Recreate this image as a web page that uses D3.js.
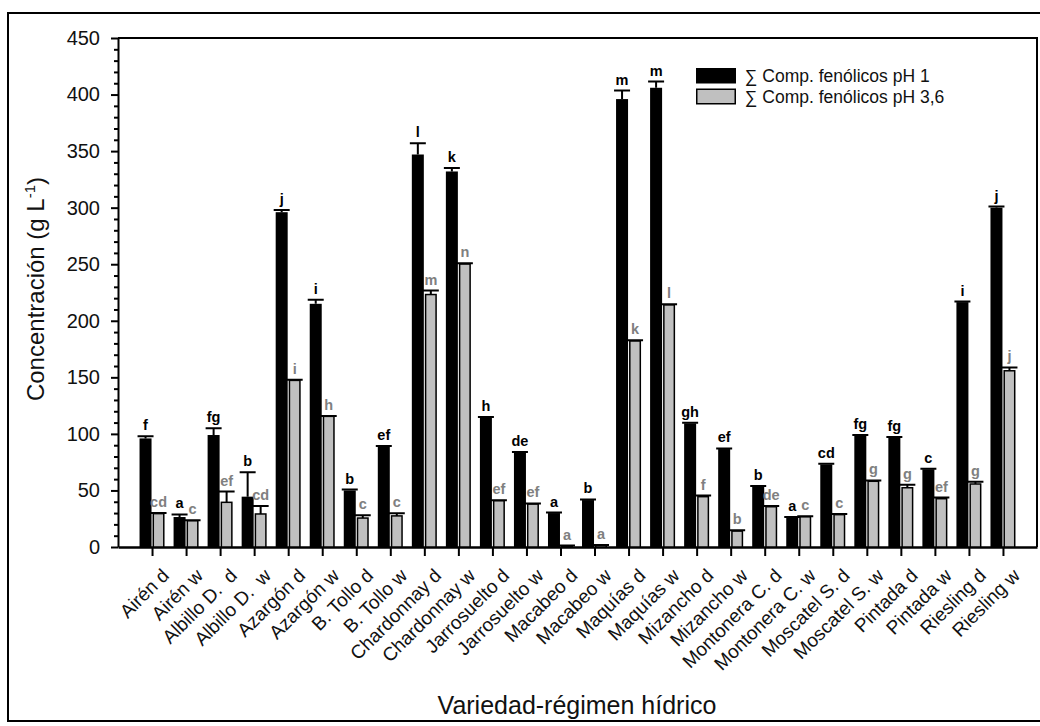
<!DOCTYPE html>
<html>
<head>
<meta charset="utf-8">
<script src="https://cdn.jsdelivr.net/npm/d3@7/dist/d3.min.js"></script>
<style>
  html, body { margin: 0; padding: 0; background: #fff; }
  svg { display: block; font-family: "Liberation Sans", Arial, sans-serif; }
</style>
</head>
<body>
<svg id="chart" width="1040" height="726"></svg>
<script>
// Variety / water regime groups
const categories = [
  "Airén d", "Airén w", "Albillo D.  d", "Albillo D.  w", "Azargón d", "Azargón w",
  "B. Tollo d", "B. Tollo w", "Chardonnay d", "Chardonnay w", "Jarrosuelto d", "Jarrosuelto w",
  "Macabeo d", "Macabeo w", "Maquías d", "Maquías w", "Mizancho d", "Mizancho w",
  "Montonera C. d", "Montonera C. w", "Moscatel S. d", "Moscatel S. w", "Pintada d", "Pintada w",
  "Riesling d", "Riesling w"
];

// Sum of phenolic compounds at pH 1 (mean and error)
const ph1Values = [96, 26.5, 99, 44.5, 296, 215, 50, 88.7, 347, 332, 114.5, 83.5,
  30, 41.5, 396, 406, 109.3, 86.6, 53.5, 26, 73, 98.5, 96.8, 68.7, 216.5, 300];
const ph1Errors = [2, 2.3, 6, 21.5, 2, 3.5, 0.8, 0.5, 10, 3, 0.5, 0.5,
  0.5, 0.5, 7.5, 5.5, 0.5, 0.5, 0.5, 0.5, 0.5, 0.5, 0.5, 0.5, 0.5, 1];
const ph1Letters = ["f", "a", "fg", "b", "j", "i", "b", "ef", "l", "k", "h", "de",
  "a", "b", "m", "m", "gh", "ef", "b", "a", "cd", "fg", "fg", "c", "i", "j"];

// Sum of phenolic compounds at pH 3,6 (mean and error)
const ph36Values = [29.5, 23.3, 39.5, 29.2, 147.3, 115.5, 25.6, 27.5, 223.2, 250.2, 41, 38,
  1, 1.5, 182.2, 214.1, 44.5, 14.1, 35.6, 26.8, 28.6, 58.1, 52.4, 42.7, 55.7, 155.8];
const ph36Errors = [0.5, 0.3, 9.5, 7, 0.5, 0.3, 2.4, 2.4, 3.5, 0.7, 0.3, 0.5,
  0.3, 0.3, 0.5, 0.5, 1, 0.6, 0.6, 0.3, 0.6, 0.7, 2.7, 1, 2, 3];
const ph36Letters = ["cd", "c", "ef", "cd", "i", "h", "c", "c", "m", "n", "ef", "ef",
  "a", "a", "k", "l", "f", "b", "de", "c", "c", "g", "g", "ef", "g", "j"];

const yMajorTicks = d3.range(0, 451, 50);
const yMinorTicks = d3.range(0, 451, 10).filter(v => v % 50 !== 0);

const seriesNames = ["\u2211 Comp. fenólicos pH 1", "\u2211 Comp. fenólicos pH 3,6"];

const svg = d3.select("#chart");
const plot = { left: 118, right: 1037, top: 38, bottom: 547 };

// Outer frame
svg.append("rect")
  .attr("x", 8).attr("y", 13).attr("width", 1045).attr("height", 708)
  .attr("fill", "none").attr("stroke", "#000").attr("stroke-width", 2);

const x = d3.scalePoint().domain(categories).range([plot.left, plot.right]).padding(1);
const y = d3.scaleLinear().domain([0, 450]).range([plot.bottom, plot.top]);

// Plot box (top and right edges)
svg.append("path")
  .attr("d", `M${plot.left},${plot.top}H${plot.right}V${plot.bottom}`)
  .attr("fill", "none").attr("stroke", "#000").attr("stroke-width", 2);

// Y axis
const yAxis = svg.append("g")
  .attr("transform", `translate(${plot.left},0)`)
  .call(d3.axisLeft(y).tickValues(yMajorTicks).tickSize(7).tickPadding(11).tickSizeOuter(0));
yAxis.select(".domain").attr("stroke-width", 2);
yAxis.selectAll(".tick line").attr("stroke-width", 2);
yAxis.selectAll(".tick text")
  .attr("font-size", 20).attr("font-family", "Liberation Sans, Arial, sans-serif").attr("fill", "#111");

// Minor ticks
svg.append("g")
  .attr("transform", `translate(${plot.left},0)`)
  .call(d3.axisLeft(y).tickValues(yMinorTicks).tickSize(4).tickFormat("").tickSizeOuter(0))
  .call(g => g.select(".domain").remove())
  .call(g => g.selectAll(".tick line").attr("stroke-width", 2));

// X axis
const xAxis = svg.append("g")
  .attr("transform", `translate(0,${plot.bottom})`)
  .call(d3.axisBottom(x).tickSize(9).tickSizeOuter(0));
xAxis.select(".domain").attr("stroke-width", 2.5);
xAxis.selectAll(".tick line").attr("stroke-width", 2);
xAxis.selectAll(".tick text")
  .attr("x", 0).attr("y", 0).attr("dy", "0.72em")
  .attr("transform", "translate(8,20) rotate(-45)")
  .attr("text-anchor", "end")
  .attr("font-size", 19)
  .attr("font-family", "Liberation Sans, Arial, sans-serif")
  .attr("fill", "#111")
  .style("white-space", "pre");

// Bars
const barW = 12;
const series = [
  { values: ph1Values, errors: ph1Errors, letters: ph1Letters, offset: -12.5, fill: "#000", label: "#000" },
  { values: ph36Values, errors: ph36Errors, letters: ph36Letters, offset: 0.5, fill: "#c0c0c0", label: "#808080" }
];

series.forEach((s, si) => {
  const g = svg.append("g");
  const data = categories.map((c, i) => ({ c, v: s.values[i], e: s.errors[i], l: s.letters[i] }));
  const cx = d => x(d.c) + s.offset + barW / 2;

  g.selectAll("rect").data(data).join("rect")
    .attr("x", d => si === 0 ? x(d.c) + s.offset : x(d.c) + s.offset + 0.75)
    .attr("y", d => y(d.v))
    .attr("width", si === 0 ? barW : barW - 1.5)
    .attr("height", d => plot.bottom - y(d.v))
    .attr("fill", s.fill)
    .attr("stroke", si === 0 ? "none" : "#000")
    .attr("stroke-width", 1.5);

  // Error bars (upper only)
  g.selectAll("path.err").data(data).join("path")
    .attr("class", "err")
    .attr("d", d => `M${cx(d)},${y(d.v)}V${y(d.v + d.e)}M${cx(d) - 8},${y(d.v + d.e)}H${cx(d) + 8}`)
    .attr("fill", "none").attr("stroke", "#000").attr("stroke-width", 2);

  // Significance letters
  g.selectAll("text").data(data).join("text")
    .attr("x", d => cx(d))
    .attr("y", d => y(d.v + d.e) - 6)
    .attr("text-anchor", "middle")
    .attr("font-size", 14.5)
    .attr("font-weight", "bold")
    .attr("fill", s.label)
    .text(d => d.l);
});

// Legend
const legend = svg.append("g").attr("transform", "translate(696,68)");
legend.append("rect").attr("x", 0).attr("y", 0).attr("width", 40).attr("height", 15.5).attr("fill", "#000");
legend.append("rect").attr("x", 0.75).attr("y", 21.25).attr("width", 38.5).attr("height", 14.5)
  .attr("fill", "#c0c0c0").attr("stroke", "#000").attr("stroke-width", 1.5);
legend.selectAll("text").data(seriesNames).join("text")
  .attr("x", 49).attr("y", (d, i) => 14 + i * 20.5)
  .attr("font-size", 17.5).attr("fill", "#111")
  .text(d => d);

// Axis titles
svg.append("text")
  .attr("x", 577).attr("y", 714)
  .attr("text-anchor", "middle").attr("font-size", 25).attr("fill", "#111")
  .text("Variedad-régimen hídrico");

const yTitle = svg.append("text")
  .attr("transform", "translate(44,289) rotate(-90)")
  .attr("text-anchor", "middle").attr("font-size", 24).attr("fill", "#111");
yTitle.append("tspan").text("Concentración (g L");
yTitle.append("tspan").attr("dy", -9).attr("font-size", 15).text("-1");
yTitle.append("tspan").attr("dy", 9).text(")");
</script>
</body>
</html>
